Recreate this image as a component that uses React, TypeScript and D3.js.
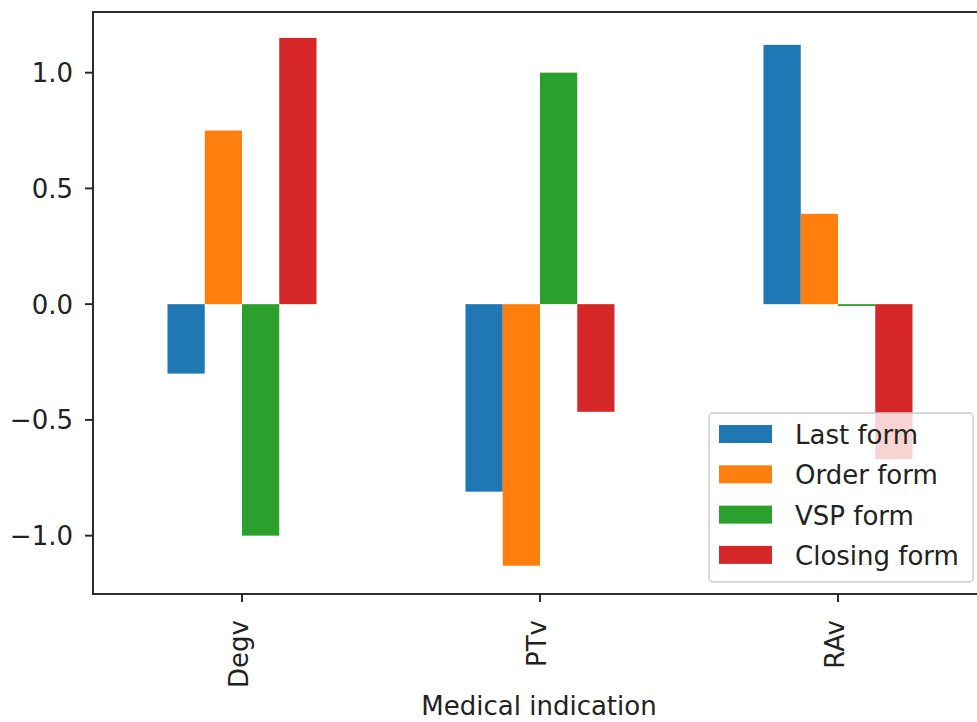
import React from 'react';
import * as d3 from 'd3';

const categories = ['Degv', 'PTv', 'RAv'];
const seriesNames = ['Last form', 'Order form', 'VSP form', 'Closing form'];
const lastForm = [-0.30, -0.81, 1.12];
const orderForm = [0.75, -1.13, 0.39];
const vspForm = [-1.0, 1.0, -0.008];
const closingForm = [1.15, -0.465, -0.67];
const yTickValues = [-1.0, -0.5, 0.0, 0.5, 1.0];
const yDomain = [-1.252, 1.262];

const COLORS = ['#1f77b4', '#ff7f0e', '#2ca02c', '#d62728'];
const FONT = 'DejaVu Sans, sans-serif';

export default function App() {
  const width = 977;
  const height = 722;
  const left = 93;
  const right = 987; // right spine falls just outside the picture
  const top = 12;
  const bottom = 594;
  const fontSize = 26;

  const series = [lastForm, orderForm, vspForm, closingForm];

  const x = d3.scaleLinear().domain([-0.5, categories.length - 0.5]).range([left, right]);
  const y = d3.scaleLinear().domain(yDomain).range([bottom, top]);

  const barW = 0.125;

  // legend
  const lgX = 709;
  const lgY = 413;
  const lgW = 264;
  const lgH = 169;
  const rowH = 40.3;

  return (
    <svg
      width={width}
      height={height}
      style={{ position: 'absolute', left: 0, top: 0, background: '#fff' }}
      fontFamily={FONT}
    >
      {/* Bars */}
      {series.map((vals, j) => (
        <g key={seriesNames[j]}>
          {vals.map((v, i) => {
            const x0 = x(i + (j - 2) * barW);
            const x1 = x(i + (j - 1) * barW);
            return (
              <rect
                key={i}
                x={x0}
                y={Math.min(y(v), y(0))}
                width={x1 - x0}
                height={Math.max(Math.abs(y(v) - y(0)), 1.2)}
                fill={COLORS[j]}
              />
            );
          })}
        </g>
      ))}

      {/* Spines */}
      <rect x={left} y={top} width={right - left} height={bottom - top} fill="none" stroke="#222" strokeWidth={1.9} />

      {/* Y axis */}
      {yTickValues.map(t => (
        <g key={t}>
          <line x1={left - 8} x2={left} y1={y(t)} y2={y(t)} stroke="#222" strokeWidth={1.9} />
          <text x={left - 20} y={y(t) + 9.5} textAnchor="end" fontSize={fontSize} fill="#222">
            {d3.format('.1f')(t).replace('-', '\u2212')}
          </text>
        </g>
      ))}

      {/* X axis */}
      {categories.map((c, i) => (
        <g key={c}>
          <line x1={x(i)} x2={x(i)} y1={bottom} y2={bottom + 8} stroke="#222" strokeWidth={1.9} />
          <text
            transform={`translate(${x(i) + 5.5},${bottom + 26}) rotate(-90)`}
            textAnchor="end"
            fontSize={fontSize}
            fill="#222"
          >
            {c}
          </text>
        </g>
      ))}
      <text x={539} y={715} textAnchor="middle" fontSize={fontSize} fill="#222">
        Medical indication
      </text>

      {/* Legend */}
      <rect x={lgX} y={lgY} width={lgW} height={lgH} rx={4} fill="#fff" fillOpacity={0.8} stroke="#ccc" strokeWidth={1.5} />
      {seriesNames.map((name, j) => {
        const cy = lgY + 21 + j * rowH;
        return (
          <g key={name}>
            <rect x={lgX + 10} y={cy - 9} width={53} height={18} fill={COLORS[j]} />
            <text x={lgX + 86} y={cy + 10} fontSize={fontSize} fill="#222">
              {name}
            </text>
          </g>
        );
      })}
    </svg>
  );
}
